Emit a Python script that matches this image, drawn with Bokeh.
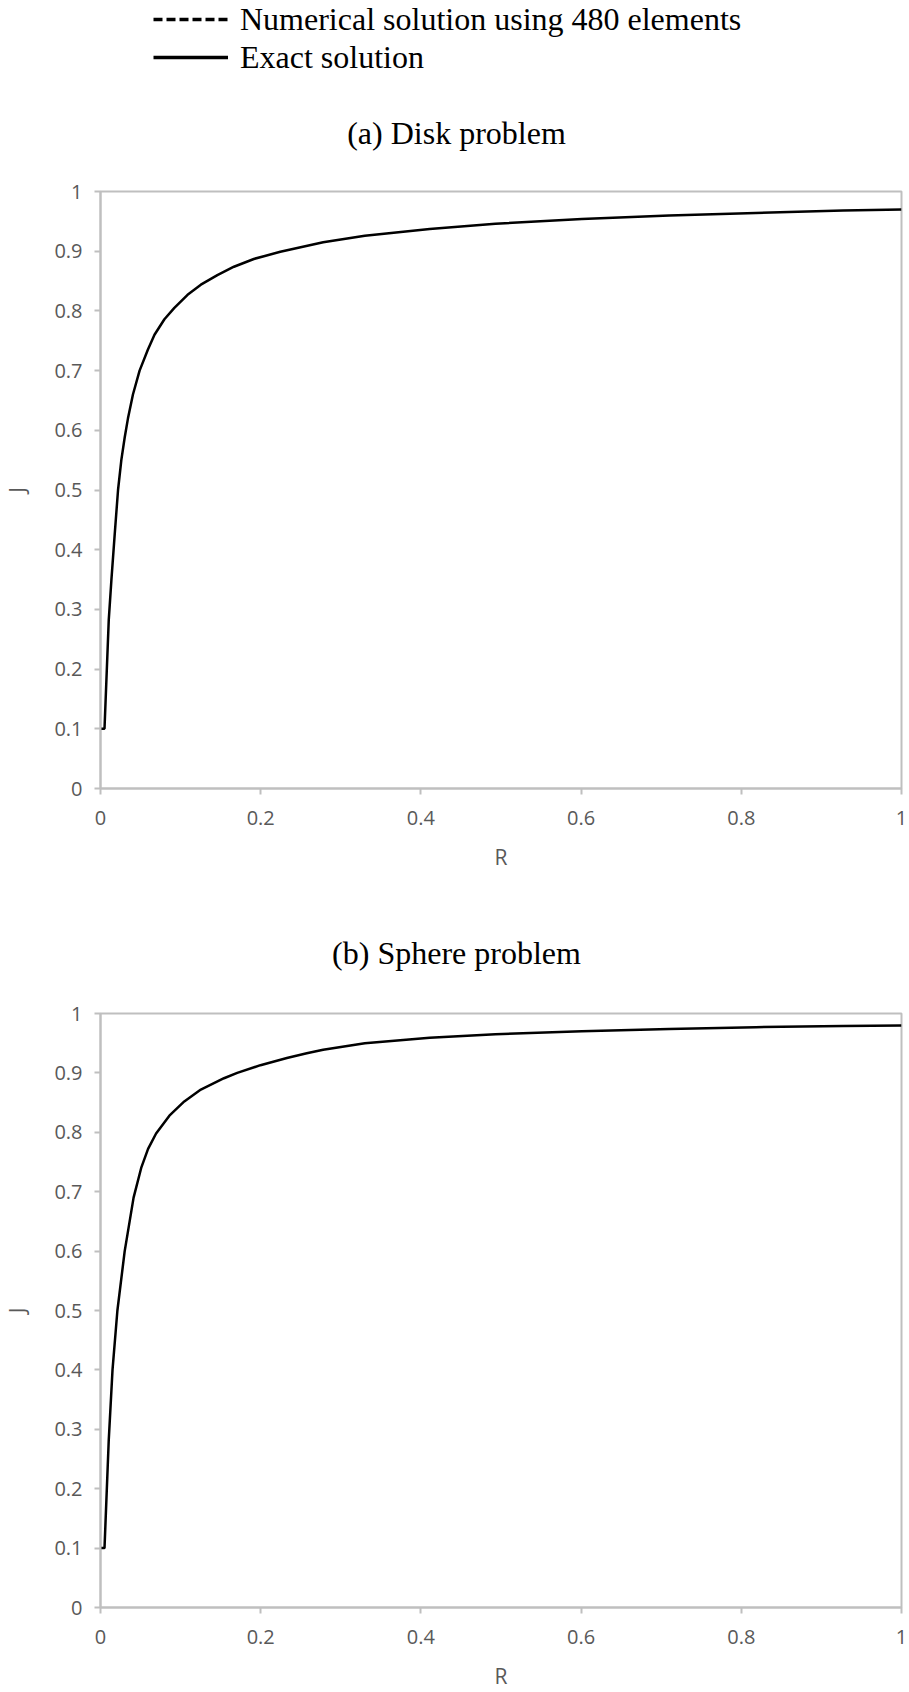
from bokeh.plotting import figure
from bokeh.layouts import column
from bokeh.models import Range1d, Legend, LegendItem, Label
from bokeh.embed import file_html
from bokeh.resources import INLINE

# ---------------- data ----------------
R_disk = [0, 0.005, 0.0103, 0.0136, 0.0178, 0.0219, 0.026, 0.0302, 0.0343, 0.0405,
          0.0488, 0.0591, 0.0674, 0.0798, 0.0922, 0.1087, 0.1253, 0.1459, 0.1666, 0.1914,
          0.2245, 0.278, 0.330, 0.411, 0.493, 0.601, 0.710, 0.818, 0.927, 1.0]
J_disk = [0.1, 0.1, 0.282, 0.349, 0.427, 0.5, 0.55, 0.588, 0.62, 0.66,
          0.700, 0.735, 0.760, 0.786, 0.805, 0.827, 0.844, 0.860, 0.874, 0.887,
          0.899, 0.915, 0.926, 0.937, 0.946, 0.954, 0.960, 0.964, 0.968, 0.970]

R_sphere = [0, 0.005, 0.0103, 0.0150, 0.0211, 0.0302, 0.0413, 0.0508, 0.0594, 0.0694,
            0.086, 0.1046, 0.1253, 0.1542, 0.1707, 0.1997, 0.2327, 0.2575, 0.278, 0.330,
            0.411, 0.493, 0.601, 0.710, 0.818, 0.927, 1.0]
J_sphere = [0.1, 0.1, 0.282, 0.40, 0.5, 0.6, 0.69, 0.74, 0.772, 0.798,
            0.828, 0.852, 0.872, 0.891, 0.900, 0.913, 0.925, 0.933, 0.939, 0.950,
            0.959, 0.965, 0.970, 0.974, 0.977, 0.979, 0.980]

x_ticks = [0, 0.2, 0.4, 0.6, 0.8, 1]
x_tick_labels = ["0", "0.2", "0.4", "0.6", "0.8", "1"]
y_ticks = [0, 0.1, 0.2, 0.3, 0.4, 0.5, 0.6, 0.7, 0.8, 0.9, 1]
y_tick_labels = ["0", "0.1", "0.2", "0.3", "0.4", "0.5", "0.6", "0.7", "0.8", "0.9", "1"]

legend_labels = ["Numerical solution using 480 elements", "Exact solution"]
titles = ["(a) Disk problem", "(b) Sphere problem"]
x_label = "R"
y_label = "J"

# ---------------- style ----------------
SERIF = "Liberation Serif"
SANS = "Open Sans"
AXIS_GRAY = "#bfbfbf"
TEXT_GRAY = "#595959"
W = 909
LEFT, RIGHT = 95, 8


def text_panel(height):
    """A blank strip (no axes) whose frame spans its full height, used for titles/legend."""
    f = figure(width=W, height=height, toolbar_location=None, output_backend="svg",
               x_range=Range1d(0, 1), y_range=Range1d(10, 11),
               x_axis_type=None, y_axis_type=None,
               min_border_left=LEFT, min_border_right=RIGHT,
               min_border_top=0, min_border_bottom=0)
    f.outline_line_color = None
    return f


def add_title(f, text, y_from_bottom):
    f.add_layout(Label(x=356, y=y_from_bottom, x_units="screen", y_units="screen",
                       text=text, text_align="center", text_baseline="middle",
                       text_font=SERIF, text_font_size="32px", text_color="black"))


def make_plot(R, J, height, top, bottom):
    p = figure(width=W, height=height, toolbar_location=None, output_backend="svg",
               x_range=Range1d(0, 1), y_range=Range1d(0, 1),
               min_border_left=LEFT, min_border_right=RIGHT,
               min_border_top=top, min_border_bottom=bottom)
    p.line(R, J, line_color="black", line_width=2.5)
    p.grid.visible = False
    p.outline_line_color = AXIS_GRAY
    p.outline_line_width = 2

    p.xaxis.ticker = x_ticks
    p.xaxis.major_label_overrides = dict(zip(x_ticks, x_tick_labels))
    p.yaxis.ticker = y_ticks
    p.yaxis.major_label_overrides = dict(zip(y_ticks, y_tick_labels))
    p.xaxis.axis_label = x_label
    p.yaxis.axis_label = y_label
    for ax in (p.xaxis, p.yaxis):
        ax.axis_line_color = AXIS_GRAY
        ax.axis_line_width = 2
        ax.major_tick_line_color = AXIS_GRAY
        ax.major_tick_line_width = 2
        ax.major_tick_out = 6
        ax.major_tick_in = 0
        ax.minor_tick_line_color = None
        ax.major_label_text_font = SANS
        ax.major_label_text_font_size = "20px"
        ax.major_label_text_color = TEXT_GRAY
        ax.axis_label_text_font = SANS
        ax.axis_label_text_font_size = "21px"
        ax.axis_label_text_font_style = "normal"
        ax.axis_label_text_color = TEXT_GRAY
    p.xaxis.major_label_standoff = 16
    p.xaxis.axis_label_standoff = 15
    p.yaxis.major_label_standoff = 12
    p.yaxis.axis_label_standoff = 20
    return p


# ---- header: legend + title (a) ----
head = text_panel(170)
r_num = head.line(R_disk, J_disk, line_color="black", line_width=3.5, line_dash="9 4")
r_ex = head.line(R_disk, J_disk, line_color="black", line_width=3.5)
legend = Legend(items=[LegendItem(label=legend_labels[0], renderers=[r_num]),
                       LegendItem(label=legend_labels[1], renderers=[r_ex])],
                location=(53, 94), margin=0, padding=0, spacing=0,
                glyph_width=75, glyph_height=38, label_height=38, label_standoff=12,
                label_text_font=SERIF, label_text_font_size="32px", label_text_color="black",
                border_line_color=None, background_fill_alpha=0)
head.add_layout(legend, "center")
add_title(head, titles[0], 38)

pa = make_plot(R_disk, J_disk, 710, 21, 92)

# ---- title (b) ----
mid = text_panel(110)
add_title(mid, titles[1], 38)

pb = make_plot(R_sphere, J_sphere, 702, 23, 82)

layout = column(head, pa, mid, pb, spacing=0)
open("out.html", "w").write(file_html(layout, INLINE))
